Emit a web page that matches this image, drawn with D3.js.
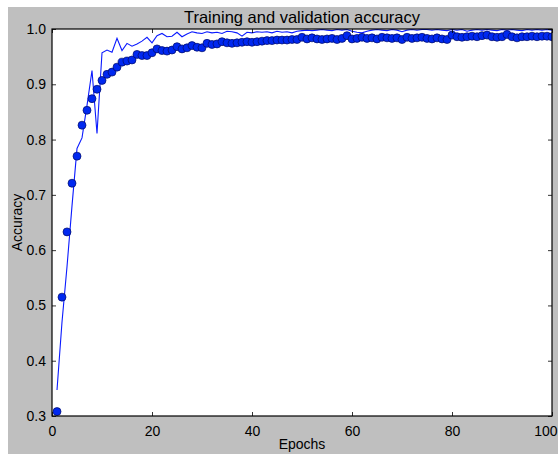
<!DOCTYPE html>
<html><head><meta charset="utf-8">
<script src="https://cdn.jsdelivr.net/npm/d3@7"></script>
<style>html,body{margin:0;padding:0;background:#fff;}svg{display:block;}</style>
</head><body>
<script>
const epochs = d3.range(1, 101);
const trainAcc = [0.308,0.515,0.633,0.721,0.770,0.826,0.853,0.874,0.891,0.907,
0.918,0.922,0.931,0.940,0.942,0.944,0.954,0.952,0.952,0.957,
0.964,0.961,0.960,0.962,0.968,0.964,0.966,0.970,0.967,0.966,
0.974,0.972,0.973,0.977,0.975,0.974,0.975,0.976,0.977,0.976,
0.977,0.978,0.979,0.979,0.980,0.980,0.980,0.981,0.981,0.985,
0.982,0.984,0.982,0.981,0.982,0.983,0.981,0.983,0.988,0.982,
0.983,0.985,0.983,0.984,0.982,0.985,0.984,0.983,0.984,0.981,
0.985,0.983,0.984,0.985,0.983,0.982,0.984,0.982,0.981,0.989,
0.986,0.985,0.986,0.987,0.986,0.988,0.989,0.986,0.985,0.986,
0.990,0.986,0.984,0.986,0.986,0.987,0.986,0.987,0.987,0.986];
const valAcc = [0.347,0.47,0.57,0.68,0.784,0.803,0.862,0.925,0.811,0.957,
0.962,0.958,0.983,0.961,0.974,0.969,0.973,0.978,0.985,0.975,
0.988,0.992,0.986,0.987,0.994,0.986,0.991,0.995,0.993,0.992,
0.995,0.993,0.994,0.992,0.996,0.995,0.993,0.987,0.994,0.993,
0.995,0.994,0.995,0.993,0.996,0.994,0.995,0.993,0.996,0.997,
0.998,0.997,0.998,0.999,0.998,0.997,0.999,0.998,0.999,0.996,
0.994,0.993,0.996,0.998,0.999,0.998,0.997,0.999,0.998,0.995,
0.998,0.999,0.998,0.999,0.999,0.998,0.999,0.998,0.997,0.999,
0.998,0.999,0.996,0.998,0.999,0.998,0.999,0.998,0.997,0.999,
0.998,0.999,0.998,0.997,0.999,0.998,0.999,0.998,0.999,0.998];
const xTicks = [0,20,40,60,80,100];
const yTicks = [0.3,0.4,0.5,0.6,0.7,0.8,0.9,1.0];
const titleText = "Training and validation accuracy";
const xLabel = "Epochs", yLabel = "Accuracy";

const W = 558, H = 454;
const L = 52, R = 552, T = 29, B = 416;
const font = "'Liberation Sans', Arial, Helvetica, sans-serif";

const svg = d3.select("body").append("svg").attr("width", W).attr("height", H);
svg.append("rect").attr("x",0).attr("y",0).attr("width",W).attr("height",H).attr("fill","#ffffff");
svg.append("rect").attr("x",8).attr("y",7).attr("width",W-8).attr("height",H-7).attr("fill","#bfbfbf");

const x = d3.scaleLinear().domain([0,100]).range([L,R]);
const y = d3.scaleLinear().domain([0.3,1.0]).range([B,T]);

svg.append("defs").append("clipPath").attr("id","clip")
  .append("rect").attr("x",L).attr("y",T).attr("width",R-L).attr("height",B-T);
svg.append("rect").attr("x",L).attr("y",T).attr("width",R-L).attr("height",B-T).attr("fill","#fff");

const g = svg.append("g").attr("clip-path","url(#clip)");
const line = d3.line().x((d,i)=>x(epochs[i])).y(d=>y(d));
g.append("path").datum(valAcc).attr("d",line).attr("fill","none")
  .attr("stroke","#0a1aff").attr("stroke-width",1.1);
g.selectAll("circle").data(trainAcc).join("circle")
  .attr("cx",(d,i)=>x(epochs[i])).attr("cy",d=>y(d)).attr("r",4)
  .attr("fill","#0028f0").attr("stroke","#000a66").attr("stroke-width",0.7);

// ticks (inside, all four sides)
const tk = 4;
function styleAxis(sel){
  sel.select(".domain").remove();
  sel.selectAll(".tick line").attr("stroke","#000").attr("stroke-width",0.8);
  sel.selectAll(".tick text").attr("font-family",font).attr("font-size",14).attr("fill","#000");
}
const xb = svg.append("g").attr("transform",`translate(0,${B})`)
  .call(d3.axisBottom(x).tickValues(xTicks).tickSize(-tk).tickPadding(10).tickFormat(d3.format("d")));
styleAxis(xb);
// keep the last label inside the picture
xb.selectAll(".tick text").filter(d => d === 100).attr("text-anchor","end").attr("dx", 5);
const xt = svg.append("g").attr("transform",`translate(0,${T})`)
  .call(d3.axisTop(x).tickValues(xTicks).tickSize(-tk).tickFormat(""));
styleAxis(xt);
const yl = svg.append("g").attr("transform",`translate(${L},0)`)
  .call(d3.axisLeft(y).tickValues(yTicks).tickSize(-tk).tickPadding(6).tickFormat(d3.format(".1f")));
styleAxis(yl);
const yr = svg.append("g").attr("transform",`translate(${R},0)`)
  .call(d3.axisRight(y).tickValues(yTicks).tickSize(-tk).tickFormat(""));
styleAxis(yr);

svg.append("rect").attr("x",L).attr("y",T).attr("width",R-L).attr("height",B-T)
  .attr("fill","none").attr("stroke","#000").attr("stroke-width",1.2);

svg.append("text").attr("x",(L+R)/2).attr("y",23).attr("text-anchor","middle")
  .attr("font-family",font).attr("font-size",16.5).text(titleText);
svg.append("text").attr("x",(L+R)/2).attr("y",449).attr("text-anchor","middle")
  .attr("font-family",font).attr("font-size",14).text(xLabel);
svg.append("text").attr("transform",`translate(22,${(T+B)/2}) rotate(-90)`).attr("text-anchor","middle")
  .attr("font-family",font).attr("font-size",14).text(yLabel);
</script>
</body></html>
